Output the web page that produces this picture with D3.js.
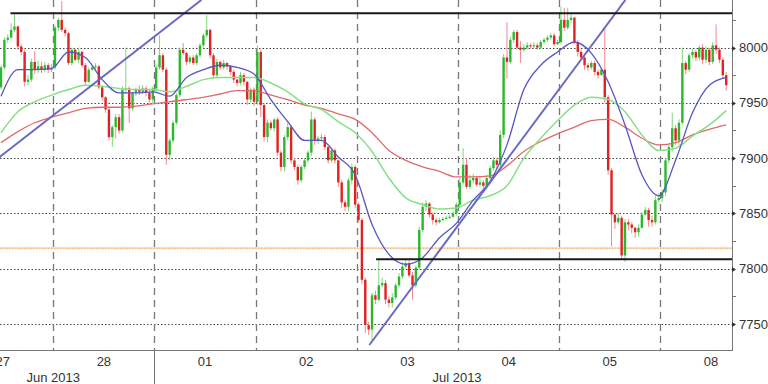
<!DOCTYPE html>
<html>
<head>
<meta charset="utf-8">
<script src="https://cdn.jsdelivr.net/npm/d3@7"></script>
<style>
  html, body { margin: 0; padding: 0; background: #fff; }
  svg { display: block; font-family: "Liberation Sans", Arial, sans-serif; }
</style>
</head>
<body>
<div id="chart"></div>
<script>
// sessions shown on the time axis, 30 candles per session
const dayLabels = ['27', '28', '01', '02', '03', '04', '05', '08'];
const monthLabels = ['Jun 2013', 'Jul 2013'];
const firstCandle = 14; // first visible candle of the 27 Jun session
const firstOpen = 7964;

// candle closes, one per bar (open = previous close)
const closes = [
  7982, 8007, 8009, 8016, 8019, 8001, 7996, 7969, 7971, 7987, 7980, 7983, 7980, 7984, 7980, 7982,
  8018, 8025, 8016, 8013, 7986, 7998, 7989, 7996, 7984, 7969, 7980, 7982, 7983, 7964, 7955, 7944, 7919, 7928, 7937, 7925, 7962, 7963, 7945, 7959, 7962, 7960, 7963, 7959, 7953, 7963,
  7982, 7993, 7980, 7903, 7916, 7932, 7957, 7998, 7995, 7987, 7991, 7986, 7993, 8002, 8011, 8016, 7993, 7975, 7987, 7982, 7986, 7983, 7978, 7971, 7968, 7975, 7969, 7953, 7962, 7951,
  7996, 7948, 7919, 7932, 7927, 7935, 7905, 7892, 7919, 7928, 7898, 7892, 7880, 7892, 7898, 7905, 7935, 7916, 7918, 7919, 7910, 7898, 7907, 7898, 7878, 7860, 7856, 7880, 7892, 7858,
  7844, 7790, 7749, 7745, 7776, 7772, 7785, 7787, 7772, 7769, 7774, 7785, 7793, 7802, 7805, 7794, 7785, 7801, 7835, 7856, 7859, 7849, 7844, 7842, 7844, 7845, 7846, 7847, 7850, 7858,
  7878, 7894, 7874, 7880, 7882, 7876, 7878, 7875, 7882, 7891, 7898, 7894, 7921, 7991, 7987, 8007, 8014, 8000, 7998, 8000, 8002, 8001, 8002, 8000, 8005, 8007, 8009, 8011, 8003, 8005,
  8025, 8018, 8025, 8027, 8005, 7996, 7991, 7984, 7982, 7986, 7978, 7975, 7980, 7955, 7889, 7849, 7842, 7846, 7812, 7842, 7840, 7837, 7833, 7837, 7849, 7853, 7844, 7842, 7862, 7864,
  7869, 7898, 7910, 7927, 7916, 7932, 7986, 7980, 7993, 7996, 7991, 8000, 7989, 7998, 7987, 8002, 7998, 7989, 7975, 7966
];
const highs = [
  7984, 8009, 8012, 8022, 8031, 8020, 8003, 7998, 7975, 7990, 7997, 7988, 7987, 7987, 7986, 7985,
  8020, 8027, 8042, 8018, 8014, 8000, 7999, 8000, 7997, 7986, 7982, 7984, 7986, 7984, 7965, 7956, 7945, 7930, 7940, 7940, 7965, 8000, 7965, 7960, 7964, 7966, 7966, 7965, 7962, 7965,
  7984, 8011, 7995, 7982, 7918, 7934, 7959, 8000, 8004, 7996, 7993, 7993, 7995, 8004, 8013, 8029, 8017, 7995, 7990, 7988, 7989, 7987, 7984, 7980, 7972, 7978, 7977, 7970, 7964, 7964,
  8002, 7998, 7950, 7935, 7934, 7936, 7937, 7907, 7921, 7932, 7930, 7900, 7894, 7894, 7900, 7907, 7942, 7937, 7920, 7922, 7921, 7912, 7909, 7909, 7899, 7880, 7862, 7882, 7895, 7894,
  7860, 7846, 7792, 7752, 7778, 7780, 7809, 7792, 7790, 7775, 7778, 7787, 7796, 7806, 7809, 7808, 7797, 7803, 7838, 7860, 7862, 7860, 7851, 7846, 7846, 7847, 7848, 7849, 7852, 7860,
  7882, 7909, 7900, 7885, 7886, 7884, 7884, 7880, 7885, 7893, 7901, 7900, 7925, 7994, 8023, 8010, 8016, 8016, 8006, 8003, 8005, 8004, 8005, 8004, 8007, 8009, 8011, 8013, 8013, 8007,
  8037, 8036, 8036, 8030, 8028, 8007, 7998, 7992, 7986, 7988, 7988, 7980, 7982, 8019, 7957, 7891, 7850, 7850, 7848, 7845, 7845, 7842, 7838, 7840, 7851, 7856, 7855, 7848, 7866, 7868,
  7872, 7900, 7913, 7941, 7930, 7935, 8000, 7988, 7995, 7999, 7998, 8002, 8003, 8001, 8000, 8005, 8021, 8000, 7991, 7978
];
const lows = [
  7962, 7980, 8004, 8008, 8014, 7998, 7993, 7965, 7966, 7969, 7976, 7977, 7977, 7978, 7977, 7978,
  7980, 8015, 8014, 8010, 7984, 7984, 7987, 7986, 7982, 7966, 7968, 7979, 7980, 7962, 7952, 7941, 7916, 7910, 7918, 7922, 7923, 7958, 7932, 7943, 7956, 7957, 7958, 7956, 7950, 7950,
  7960, 7980, 7978, 7894, 7898, 7914, 7930, 7955, 7993, 7984, 7985, 7984, 7984, 7991, 8000, 8009, 7990, 7972, 7973, 7980, 7980, 7980, 7975, 7968, 7965, 7966, 7966, 7948, 7950, 7947,
  7948, 7937, 7915, 7914, 7925, 7924, 7902, 7888, 7888, 7916, 7895, 7889, 7876, 7878, 7890, 7896, 7902, 7912, 7913, 7915, 7907, 7895, 7896, 7895, 7874, 7855, 7852, 7852, 7876, 7855,
  7842, 7786, 7742, 7740, 7735, 7768, 7770, 7783, 7768, 7765, 7765, 7772, 7783, 7791, 7800, 7792, 7772, 7783, 7799, 7833, 7852, 7846, 7840, 7839, 7841, 7843, 7844, 7845, 7846, 7848,
  7855, 7876, 7872, 7872, 7877, 7874, 7874, 7872, 7872, 7880, 7889, 7890, 7890, 7918, 7972, 7985, 8004, 7998, 7986, 7996, 7998, 7999, 7999, 7998, 7998, 8003, 8005, 8007, 8001, 8002,
  8003, 8015, 8016, 8022, 8003, 7992, 7989, 7980, 7979, 7980, 7975, 7972, 7975, 7950, 7885, 7820, 7836, 7840, 7809, 7806, 7835, 7832, 7828, 7829, 7836, 7848, 7838, 7838, 7840, 7860,
  7860, 7866, 7895, 7906, 7912, 7912, 7930, 7976, 7978, 7990, 7988, 7988, 7985, 7986, 7984, 7985, 7994, 7986, 7972, 7961
];

// moving averages read every 5 candles, starting at the first visible candle
const maStep = 5;
const maFast = [7956, 7980, 7980, 7981, 7996, 7991, 7971, 7959, 7959, 7960, 7956, 7973, 7980, 7984, 7982, 7976, 7953, 7933, 7916, 7916, 7901, 7885, 7840, 7813, 7804, 7810, 7828, 7841, 7862, 7879, 7912, 7962, 7984, 7996, 8005, 7995, 7969, 7930, 7885, 7866, 7898, 7941, 7966, 7973];
const maMid = [7923, 7942, 7951, 7957, 7962, 7966, 7965, 7963, 7962, 7962, 7960, 7965, 7971, 7973, 7973, 7973, 7968, 7960, 7949, 7944, 7933, 7923, 7906, 7882, 7864, 7858, 7854, 7855, 7862, 7866, 7875, 7900, 7918, 7934, 7948, 7955, 7953, 7942, 7921, 7907, 7909, 7920, 7930, 7943];
const maSlow = [7914, 7924, 7932, 7937, 7941, 7945, 7946, 7946, 7947, 7949, 7951, 7953, 7955, 7958, 7961, 7961, 7957, 7953, 7948, 7945, 7940, 7935, 7923, 7907, 7898, 7892, 7888, 7883, 7883, 7884, 7893, 7906, 7915, 7922, 7928, 7934, 7935, 7928, 7918, 7912, 7914, 7921, 7926, 7930];

// drawn levels and trend lines (candle index, price)
const resistance = { from: 17.3, level: 8031 };
const support = { from: 125.7, level: 7808.5 };
const pivot = 7818.6;
const trendA = [[13.7, 7900], [73.9, 8043]];
const trendB = [[123.7, 7731], [199.6, 8043]];

const yTicks = [7750, 7800, 7850, 7900, 7950, 8000];
const yMinor = [7775, 7825, 7875, 7925, 7975, 8025];

// set the dimensions
const W = 768, H = 384;
const plotR = 732, plotB = 350;
const perDay = 30;

const svg = d3.select('#chart')
  .append('svg')
  .attr('width', W)
  .attr('height', H);

const x = d3.scaleLinear()
  .domain([0, perDay * dayLabels.length])
  .range([-47.9, -47.9 + 3.373 * perDay * dayLabels.length]);

const y = d3.scaleLinear()
  .domain([7726.5, 8043])
  .range([plotB, 0]);

svg.append('defs').append('clipPath').attr('id', 'plot')
  .append('rect').attr('x', 0).attr('y', 0).attr('width', plotR).attr('height', plotB);

const plot = svg.append('g').attr('clip-path', 'url(#plot)');

// horizontal dotted grid
plot.selectAll('.hgrid')
  .data(yTicks)
  .join('line')
  .attr('x1', 0).attr('x2', plotR)
  .attr('y1', d => Math.round(y(d)) + 0.5)
  .attr('y2', d => Math.round(y(d)) + 0.5)
  .attr('stroke', '#444')
  .attr('stroke-width', 1)
  .attr('stroke-dasharray', '1.5,2');

// session separators
const seps = d3.range(1, dayLabels.length);
plot.selectAll('.vgrid')
  .data(seps)
  .join('line')
  .attr('x1', d => Math.round(x(d * perDay)) + 0.5)
  .attr('x2', d => Math.round(x(d * perDay)) + 0.5)
  .attr('y1', 0).attr('y2', plotB)
  .attr('stroke', '#777')
  .attr('stroke-width', 1.3)
  .attr('stroke-dasharray', '7,5');

// pivot level (orange dotted)
plot.append('line')
  .attr('x1', 0).attr('x2', plotR)
  .attr('y1', y(pivot)).attr('y2', y(pivot))
  .attr('stroke', '#fde2c4').attr('stroke-width', 2);
plot.append('line')
  .attr('x1', 0).attr('x2', plotR)
  .attr('y1', y(pivot)).attr('y2', y(pivot))
  .attr('stroke', '#f2a152').attr('stroke-width', 1)
  .attr('stroke-dasharray', '1.5,1.5');

// candles
const candles = closes.map((c, i) => ({
  g: firstCandle + i,
  o: i === 0 ? firstOpen : closes[i - 1],
  h: highs[i],
  l: lows[i],
  c: c,
}));

const cg = plot.append('g');
cg.selectAll('.wick')
  .data(candles)
  .join('line')
  .attr('x1', d => x(d.g + 0.5))
  .attr('x2', d => x(d.g + 0.5))
  .attr('y1', d => y(d.h))
  .attr('y2', d => y(d.l))
  .attr('stroke', d => d.c >= d.o ? '#7fd67f' : '#f08a8a')
  .attr('stroke-width', 1);

cg.selectAll('.body')
  .data(candles)
  .join('rect')
  .attr('x', d => x(d.g + 0.5) - 1.2)
  .attr('width', 2.4)
  .attr('y', d => y(Math.max(d.o, d.c)))
  .attr('height', d => Math.max(1, Math.abs(y(d.o) - y(d.c))))
  .attr('fill', d => d.c >= d.o ? '#2cb82c' : '#e02222');

// moving averages
const maLine = d3.line()
  .x((d, i) => x(firstCandle + i * maStep + 0.5))
  .y(d => y(d))
  .curve(d3.curveMonotoneX);

plot.append('path').datum(maSlow)
  .attr('d', maLine).attr('fill', 'none')
  .attr('stroke', '#e06a6a').attr('stroke-width', 1.3);
plot.append('path').datum(maMid)
  .attr('d', maLine).attr('fill', 'none')
  .attr('stroke', '#86e086').attr('stroke-width', 1.5);
plot.append('path').datum(maFast)
  .attr('d', maLine).attr('fill', 'none')
  .attr('stroke', '#5656c6').attr('stroke-width', 1.3);

// trend lines
[trendA, trendB].forEach(t => {
  plot.append('line')
    .attr('x1', x(t[0][0])).attr('y1', y(t[0][1]))
    .attr('x2', x(t[1][0])).attr('y2', y(t[1][1]))
    .attr('stroke', '#6a6ac4')
    .attr('stroke-width', 2);
});

// support / resistance
[resistance, support].forEach(s => {
  plot.append('line')
    .attr('x1', x(s.from)).attr('x2', plotR)
    .attr('y1', y(s.level)).attr('y2', y(s.level))
    .attr('stroke', '#1a1a1a')
    .attr('stroke-width', 2);
});

// right axis
const ax = svg.append('g');
ax.append('line')
  .attr('x1', plotR + 0.5).attr('x2', plotR + 0.5)
  .attr('y1', 0).attr('y2', plotB)
  .attr('stroke', '#777');
ax.selectAll('.minor')
  .data(yMinor)
  .join('line')
  .attr('x1', plotR).attr('x2', plotR + 4)
  .attr('y1', d => Math.round(y(d)) + 0.5)
  .attr('y2', d => Math.round(y(d)) + 0.5)
  .attr('stroke', '#777');
ax.selectAll('.major')
  .data(yTicks)
  .join('path')
  .attr('d', d => {
    const yy = Math.round(y(d)) + 0.5;
    return `M${plotR},${yy - 2.5}L${plotR + 4},${yy}L${plotR},${yy + 2.5}Z`;
  })
  .attr('fill', '#333');
ax.selectAll('.lab')
  .data(yTicks)
  .join('text')
  .attr('x', plotR + 7)
  .attr('y', d => y(d))
  .attr('dy', '0.35em')
  .attr('fill', '#333')
  .style('font-size', '13px')
  .text(d => d);

// bottom axis
svg.append('line')
  .attr('x1', 0).attr('x2', plotR + 1)
  .attr('y1', plotB + 0.5).attr('y2', plotB + 0.5)
  .attr('stroke', '#777');

svg.selectAll('.day')
  .data(dayLabels)
  .join('text')
  .attr('x', (d, i) => x(i * perDay + perDay / 2))
  .attr('y', 366)
  .attr('text-anchor', 'middle')
  .attr('fill', '#333')
  .style('font-size', '13px')
  .text(d => d);

// month separator under the axis
svg.append('line')
  .attr('x1', Math.round(x(2 * perDay)) + 0.5)
  .attr('x2', Math.round(x(2 * perDay)) + 0.5)
  .attr('y1', plotB).attr('y2', H)
  .attr('stroke', '#777');

svg.selectAll('.month')
  .data(monthLabels)
  .join('text')
  .attr('x', (d, i) => i === 0 ? x(30) : x(5 * perDay - 0.3))
  .attr('y', 382)
  .attr('text-anchor', 'middle')
  .attr('fill', '#333')
  .style('font-size', '13px')
  .text(d => d);
</script>
</body>
</html>
